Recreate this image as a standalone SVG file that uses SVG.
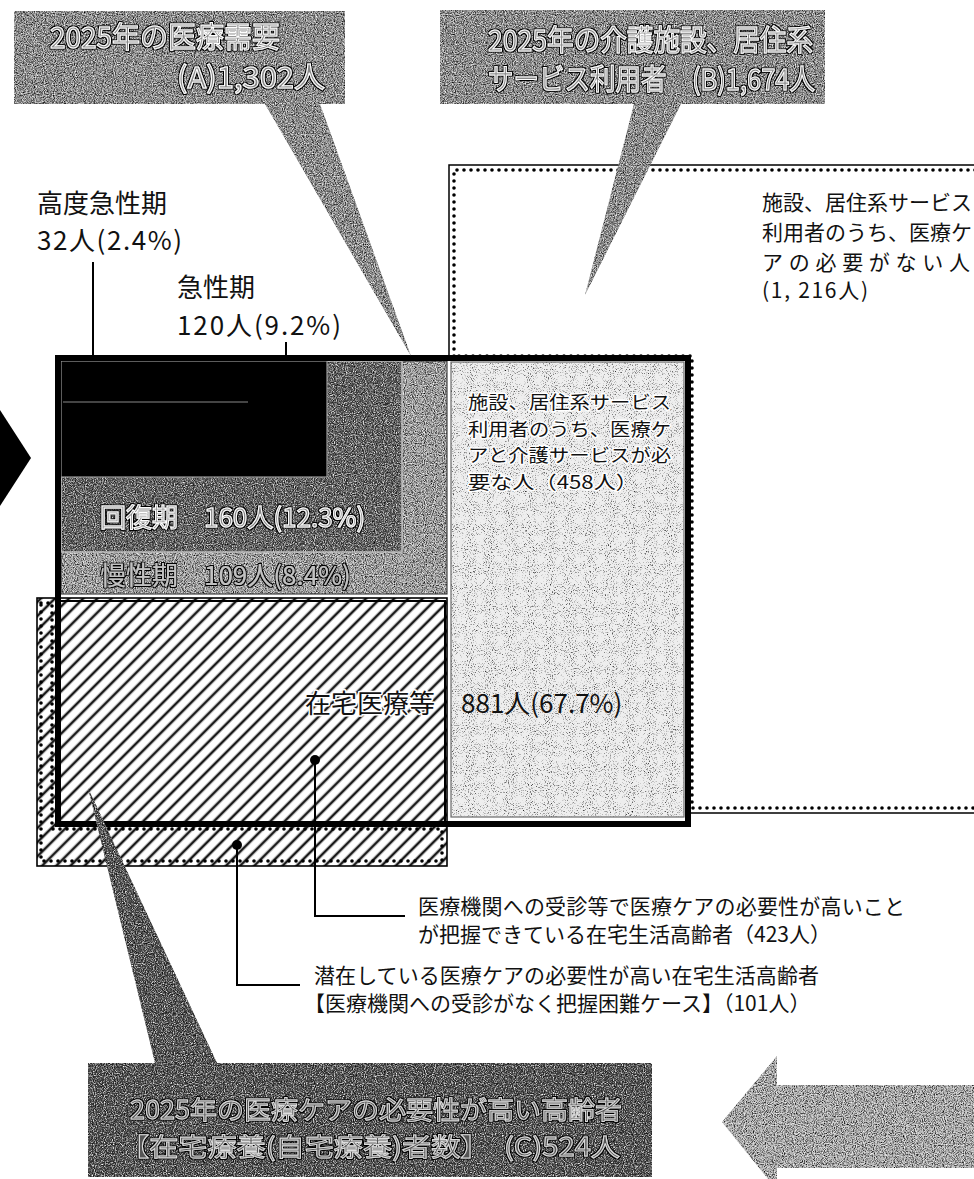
<svg xmlns="http://www.w3.org/2000/svg" width="974" height="1179" viewBox="0 0 974 1179">
<style>
.t{font-family:"Noto Sans CJK JP","Noto Sans",sans-serif;}
.lbl{font-size:26px;fill:#111;}
.note{font-size:21px;fill:#111;}
.halo{paint-order:stroke;stroke:#fff;stroke-width:3px;stroke-linejoin:round;}
.emb{fill:#868686;stroke:#fff;stroke-width:1px;}
.embd{fill:#555;stroke:#ddd;stroke-width:0.9px;}
.conn{fill:none;stroke:#000;stroke-width:2;}
.dots{fill:none;stroke:#000;stroke-width:3.6;stroke-dasharray:0 7;stroke-linecap:round;}
.grain{filter:url(#grain);}
.grainl{filter:url(#grainl);}
</style>
<defs>
<pattern id="hatch" patternUnits="userSpaceOnUse" width="10" height="10" patternTransform="rotate(45)">
<rect width="10" height="10" fill="#fff"/>
<line x1="2" y1="0" x2="2" y2="10" stroke="#1a1a1a" stroke-width="2.6"/>
</pattern>
<filter id="ol" x="-5%" y="-30%" width="110%" height="160%">
<feMorphology in="SourceAlpha" operator="dilate" radius="1.1" result="d"/>
<feFlood flood-color="#000"/>
<feComposite in2="d" operator="in" result="o"/>
<feMerge><feMergeNode in="o"/><feMergeNode in="SourceGraphic"/></feMerge>
</filter>
<filter id="grain" x="0" y="0" width="100%" height="100%" color-interpolation-filters="sRGB">
<feTurbulence type="fractalNoise" baseFrequency="0.9" numOctaves="2" seed="4" result="n"/>
<feColorMatrix in="n" type="matrix" values="0 0 0 0 0  0 0 0 0 0  0 0 0 0 0  2.6 0 0 0 -1.27" result="blk"/>
<feComposite in="blk" in2="SourceGraphic" operator="in" result="blk2"/>
<feColorMatrix in="n" type="matrix" values="0 0 0 0 1  0 0 0 0 1  0 0 0 0 1  -2.6 0 0 0 1.33" result="wht"/>
<feComposite in="wht" in2="SourceGraphic" operator="in" result="wht2"/>
<feMerge><feMergeNode in="SourceGraphic"/><feMergeNode in="blk2"/><feMergeNode in="wht2"/></feMerge>
</filter>
<filter id="grainl" x="0" y="0" width="100%" height="100%" color-interpolation-filters="sRGB">
<feTurbulence type="fractalNoise" baseFrequency="0.95" numOctaves="2" seed="9" result="n"/>
<feColorMatrix in="n" type="matrix" values="0 0 0 0 0  0 0 0 0 0  0 0 0 0 0  2.6 0 0 0 -1.45" result="blk"/>
<feComposite in="blk" in2="SourceGraphic" operator="in" result="blk2"/>
<feMerge><feMergeNode in="SourceGraphic"/><feMergeNode in="blk2"/></feMerge>
</filter>
</defs>
<rect width="974" height="1179" fill="#fff"/>

<!-- Region B: facility/residential users -->
<g id="region-b">
<path d="M449,358 V165 H980 M690,813 H980" fill="none" stroke="#000" stroke-width="1.5"/>
<path class="dots" d="M454,356 V170 H980 M980,808 H692 V356 H454"/>
<text class="t note" x="762" y="210">施設、居住系サービス</text>
<text class="t note" x="762" y="240">利用者のうち、医療ケ</text>
<text class="t note" x="762" y="270" textLength="208" lengthAdjust="spacing">アの必要がない人</text>
<text class="t note" x="762" y="298" textLength="106">(1, 216人)</text>
</g>

<!-- Region 458 -->
<g id="region-458">
<rect class="grainl" x="451" y="362" width="233" height="455" fill="#eeeeee"/>
<rect x="451" y="362" width="233" height="455" fill="none" stroke="#6a6a6a" stroke-width="1.2"/>
<g class="t halo" font-size="18.3" fill="#111">
<text x="468" y="409" textLength="203" lengthAdjust="spacingAndGlyphs">施設、居住系サービス</text>
<text x="468" y="435.5" textLength="203" lengthAdjust="spacingAndGlyphs">利用者のうち、医療ケ</text>
<text x="468" y="462" textLength="203" lengthAdjust="spacingAndGlyphs">アと介護サービスが必</text>
<text x="468" y="488.5" textLength="170" lengthAdjust="spacingAndGlyphs">要な人（458人）</text>
</g>
</g>

<!-- Chronic -->
<g id="chronic">
<rect class="grain" x="61" y="361" width="386" height="233" fill="#a0a0a0"/>
<rect x="61" y="361" width="386" height="233" fill="none" stroke="#444" stroke-width="1.2"/>
<text class="t" x="100" y="585" font-size="26" fill="#c2c2c2" filter="url(#ol)">慢性期　109人(8.4%)</text>
</g>

<!-- Recovery -->
<g id="recovery">
<rect class="grain" x="61" y="361" width="341" height="191" fill="#5e5e5e"/>
<rect x="61" y="361" width="341" height="191" fill="none" stroke="#bdbdbd" stroke-width="1.5"/>
<text class="t emb" x="100" y="527" font-size="26" filter="url(#ol)" fill="#6a6a6a">回復期　160人(12.3%)</text>
</g>

<!-- Acute (high + acute) -->
<g id="acute">
<rect x="61" y="361" width="266" height="116" fill="#000" stroke="#9a9a9a" stroke-width="1.2"/>
<line x1="63" y1="402" x2="248" y2="402" stroke="#888" stroke-width="1"/>
</g>

<!-- Region C: home care -->
<g id="region-c">
<rect x="37" y="598" width="410" height="268" fill="url(#hatch)" stroke="#000" stroke-width="1.6"/>
<path class="dots" d="M41,603 H52 V829 H442 V861 H41 Z"/>
<path d="M61,601 H445 V822" fill="none" stroke="#000" stroke-width="2"/>
</g>

<!-- Region A bold outline -->
<g id="region-a">
<rect x="58" y="358" width="630" height="466" fill="none" stroke="#000" stroke-width="6"/>
</g>

<g id="home-label">
<text class="t lbl" x="305" y="713"><tspan class="halo">在宅医療等</tspan>　881人(67.7%)</text>
</g>

<!-- Labels -->
<g id="label-high-acute">
<text class="t lbl" x="37" y="213" textLength="130">高度急性期</text>
<text class="t lbl" x="37" y="250" textLength="145">32人(2.4%)</text>
</g>
<g id="label-acute">
<text class="t lbl" x="177" y="297">急性期</text>
<text class="t lbl" x="177" y="335" textLength="164">120人(9.2%)</text>
</g>
<g id="label-423">
<text class="t note" x="418" y="914" textLength="487">医療機関への受診等で医療ケアの必要性が高いこと</text>
<text class="t note" x="418" y="942">が把握できている在宅生活高齢者（423人）</text>
</g>
<g id="label-101">
<text class="t note" x="314" y="983" textLength="505">潜在している医療ケアの必要性が高い在宅生活高齢者</text>
<text class="t note" x="304" y="1011">【医療機関への受診がなく把握困難ケース】（101人）</text>
</g>

<!-- Connectors -->
<g id="connectors">
<line class="conn" x1="93" y1="262" x2="93" y2="358"/>
<line class="conn" x1="286" y1="342" x2="286" y2="358"/>
<path class="conn" d="M315,760 V916 H405"/>
<circle cx="315" cy="760" r="5" fill="#000"/>
<path class="conn" d="M237,845 V985 H300"/>
<circle cx="237" cy="845" r="5" fill="#000"/>
</g>

<!-- Callout A -->
<g id="callout-a">
<path class="grain" d="M14,11 H345 V104 H320 L411,356 L265,104 H14 Z" fill="#8e8e8e"/>
<text class="t emb" x="50" y="48" font-size="29" filter="url(#ol)" textLength="230" lengthAdjust="spacingAndGlyphs">2025年の医療需要</text>
<text class="t emb" x="177" y="88" font-size="29" filter="url(#ol)" textLength="148" lengthAdjust="spacingAndGlyphs">(A)1,302人</text>
</g>

<!-- Callout B -->
<g id="callout-b">
<path class="grain" d="M440,10 H825 V104 H681 L585,295 L634,104 H440 Z" fill="#8e8e8e"/>
<text class="t emb" x="488" y="51" font-size="29" filter="url(#ol)" textLength="325" lengthAdjust="spacingAndGlyphs">2025年の介護施設、居住系</text>
<text class="t emb" x="488" y="90" font-size="29" filter="url(#ol)" textLength="327" lengthAdjust="spacingAndGlyphs">サービス利用者　(B)1,674人</text>
</g>

<!-- Callout C -->
<g id="callout-c">
<path class="grain" d="M88,1063 H155 L88,788 L217,1063 H652 V1177 H88 Z" fill="#505050"/>
<text class="t embd" x="130" y="1119" font-size="25" filter="url(#ol)" textLength="492" lengthAdjust="spacingAndGlyphs">2025年の医療ケアの必要性が高い高齢者</text>
<text class="t embd" x="120" y="1156" font-size="25" filter="url(#ol)" textLength="500" lengthAdjust="spacingAndGlyphs">【在宅療養(自宅療養)者数】　(C)524人</text>
</g>

<!-- Arrows -->
<g id="arrow-left">
<polygon points="0,410 31,458 0,506" fill="#000"/>
</g>
<g id="arrow-bottom-right">
<polygon class="grain" points="722,1122 777,1056 777,1085 980,1085 980,1168 777,1168 777,1190" fill="#acacac"/>
</g>
</svg>
